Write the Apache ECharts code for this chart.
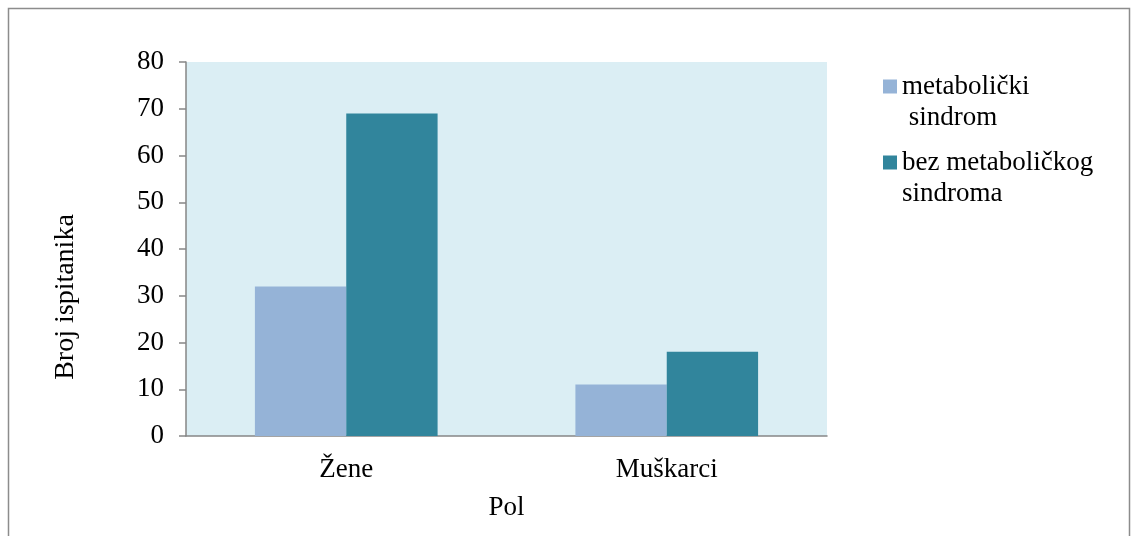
<!DOCTYPE html>
<html lang="sr">
<head>
    <meta charset="UTF-8">
    <title>Broj ispitanika po polu</title>
    <style>
        html,body{
            padding: 0;
            margin: 0;
            width: 100%;
            height: 100%;
            background: #fff;
        }
        .chart{
            width: 1132px;
            height: 536px;
        }
    </style>
    <script src="https://cdn.jsdelivr.net/npm/echarts@6/dist/echarts.min.js"></script>
</head>
<body>
<div class="chart"></div>
<script>
    // podaci
    let categories = ['Žene', 'Muškarci'];
    let seriesNames = ['metabolički\n sindrom', 'bez metaboličkog\nsindroma'];
    let metabolicki = [32, 11];
    let bezMetabolickog = [69, 18];
    let yTicks = [0, 80, 10]; // min, max, interval

    let font = 'Liberation Serif';
    let axisGray = '#868686';

    let myChart = echarts.init(document.querySelector('.chart'));

    let option = {
        backgroundColor: '#fff',
        textStyle: {fontFamily: font},
        animation: false,
        grid: {
            left: 186,
            right: 305,
            top: 62,
            bottom: 100,
            show: true,
            backgroundColor: '#DBEEF4',
            borderWidth: 0
        },
        legend: {
            orient: 'vertical',
            left: 883,
            top: 40,
            padding: 0,
            itemWidth: 14,
            itemHeight: 14,
            itemGap: -17,
            icon: 'rect',
            data: seriesNames,
            // prazan prvi red da ikonica stoji uz prvi red teksta
            formatter: function (name) {
                return '\n' + name;
            },
            textStyle: {
                fontFamily: font,
                fontSize: 27,
                lineHeight: 31,
                color: '#000'
            }
        },
        xAxis: {
            type: 'category',
            data: categories,
            name: 'Pol',
            nameLocation: 'middle',
            nameGap: 58,
            nameTextStyle: {fontFamily: font, fontSize: 27, color: '#000'},
            axisLine: {lineStyle: {color: axisGray, width: 1.5}},
            axisTick: {length: 7, lineStyle: {color: axisGray, width: 1.5}},
            axisLabel: {fontFamily: font, fontSize: 27, color: '#000', margin: 20}
        },
        yAxis: {
            type: 'value',
            min: yTicks[0],
            max: yTicks[1],
            interval: yTicks[2],
            axisLine: {show: true, lineStyle: {color: axisGray, width: 1.5}},
            axisTick: {show: true, length: 7, lineStyle: {color: axisGray, width: 1.5}},
            axisLabel: {fontFamily: font, fontSize: 27, color: '#000', margin: 22},
            splitLine: {show: false}
        },
        graphic: [
            {
                type: 'rect',
                shape: {x: 8.5, y: 8.5, width: 1121, height: 540},
                style: {fill: 'none', stroke: '#8c8c8c', lineWidth: 1.5},
                silent: true
            },
            {
                type: 'text',
                x: 66,
                y: 297,
                rotation: Math.PI / 2,
                style: {
                    text: 'Broj ispitanika',
                    font: '28px "Liberation Serif"',
                    fill: '#000',
                    align: 'center',
                    verticalAlign: 'middle'
                }
            }
        ],
        series: [
            {
                name: seriesNames[0],
                type: 'bar',
                data: metabolicki,
                barGap: 0,
                barCategoryGap: '43%',
                itemStyle: {color: '#95B3D7'}
            },
            {
                name: seriesNames[1],
                type: 'bar',
                data: bezMetabolickog,
                barGap: 0,
                barCategoryGap: '43%',
                itemStyle: {color: '#31859C'}
            }
        ]
    };

    myChart.setOption(option);
</script>
</body>
</html>
